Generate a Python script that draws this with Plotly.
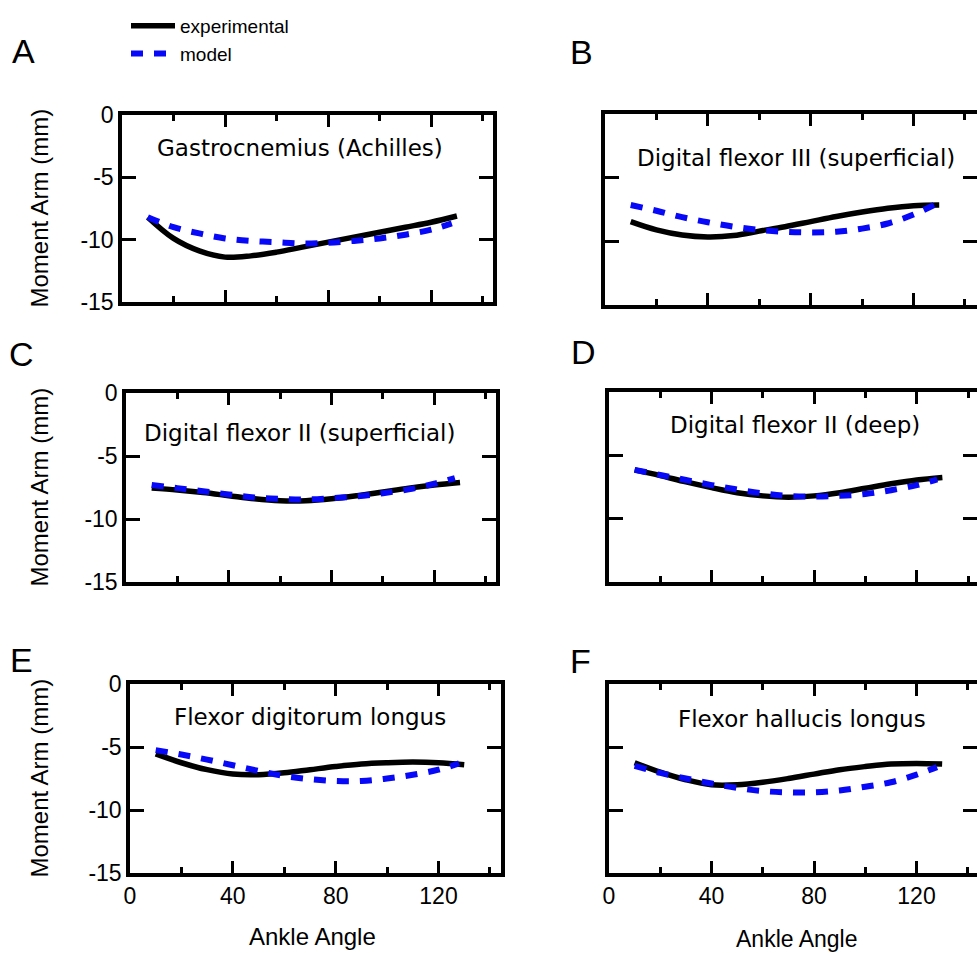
import plotly.graph_objects as go

W, H = 977, 953

angles_exp = [10, 20, 30, 40, 50, 60, 70, 80, 90, 100, 110, 120, 130]
angles_mod = [10, 20, 30, 40, 50, 60, 70, 80, 90, 100, 110, 120, 128]

titles = ["Gastrocnemius (Achilles)", "Digital flexor III (superficial)",
          "Digital flexor II (superficial)", "Digital flexor II (deep)",
          "Flexor digitorum longus", "Flexor hallucis longus"]
panel_letters = ["A", "B", "C", "D", "E", "F"]

exp_A = [-8.2, -9.9, -10.9, -11.4, -11.3, -11.0, -10.6, -10.2, -9.8, -9.4, -9.0, -8.6, -8.1]
mod_A = [-8.2, -9.0, -9.5, -9.9, -10.1, -10.2, -10.3, -10.25, -10.1, -9.9, -9.6, -9.2, -8.7]
exp_B = [-8.45, -9.1, -9.5, -9.65, -9.55, -9.2, -8.85, -8.45, -8.05, -7.7, -7.4, -7.2, -7.15]
mod_B = [-7.15, -7.6, -8.1, -8.5, -8.85, -9.1, -9.25, -9.3, -9.25, -9.0, -8.6, -7.9, -7.15]
exp_C = [-7.55, -7.7, -7.9, -8.15, -8.4, -8.55, -8.55, -8.4, -8.15, -7.85, -7.55, -7.3, -7.1]
mod_C = [-7.3, -7.55, -7.8, -8.05, -8.3, -8.4, -8.45, -8.35, -8.2, -7.95, -7.65, -7.2, -6.75]
exp_D = [-6.15, -6.6, -7.1, -7.55, -7.95, -8.2, -8.3, -8.2, -7.95, -7.6, -7.25, -6.95, -6.75]
mod_D = [-6.15, -6.55, -6.95, -7.35, -7.7, -8.0, -8.2, -8.25, -8.2, -8.05, -7.75, -7.35, -6.9]
exp_E = [-5.55, -6.25, -6.8, -7.15, -7.2, -7.05, -6.8, -6.55, -6.35, -6.25, -6.2, -6.25, -6.4]
mod_E = [-5.25, -5.6, -6.0, -6.45, -6.9, -7.3, -7.55, -7.7, -7.7, -7.5, -7.2, -6.8, -6.3]
exp_F = [-6.25, -7.0, -7.6, -8.0, -8.0, -7.8, -7.5, -7.15, -6.8, -6.55, -6.35, -6.3, -6.35]
mod_F = [-6.5, -7.05, -7.5, -7.9, -8.25, -8.5, -8.6, -8.6, -8.45, -8.15, -7.8, -7.2, -6.6]

exp_series = [exp_A, exp_B, exp_C, exp_D, exp_E, exp_F]
mod_series = [mod_A, mod_B, mod_C, mod_D, mod_E, mod_F]

y_ticks = [0, -5, -10, -15]
x_ticks = [0, 40, 80, 120]
x_minor_ticks = [20, 60, 100, 140]

# panel boxes in pixels: left, right, top, bottom
boxes = [(122, 493, 115, 302), (605, 977, 114, 305),
         (126, 496, 393, 582), (609, 977, 392, 582),
         (130, 501, 684, 873), (609, 977, 684, 873)]
x_max = [144, 144.7, 144, 143.5, 144.3, 143.6]
title_pos = [(300, 148), (796, 158), (299, 433), (795, 425), (310, 717), (802, 719)]
letter_pos = [(23, 51), (581, 52), (21, 354), (583, 352), (21, 660), (580, 661)]

TICK_FONT = dict(family="Liberation Sans, Arial", size=23, color="black")

fig = go.Figure()
annotations = []
for i in range(6):
    ax = "" if i == 0 else str(i + 1)
    fig.add_trace(go.Scatter(x=angles_exp, y=exp_series[i], mode="lines",
                             line=dict(color="black", width=5.5, shape="spline"),
                             name="experimental", showlegend=(i == 0),
                             xaxis="x" + ax, yaxis="y" + ax))
    fig.add_trace(go.Scatter(x=angles_mod, y=mod_series[i], mode="lines",
                             line=dict(color="#0808f8", width=6, dash="12px,11px", shape="spline"),
                             name="model", showlegend=(i == 0),
                             xaxis="x" + ax, yaxis="y" + ax))
    l, r, t, b = boxes[i]
    left_col = (i % 2 == 0)
    bottom_row = (i >= 4)
    fig.update_layout(**{
        "xaxis" + ax: dict(domain=[l / W, min(r / W, 1.0)], range=[0, x_max[i]],
                           anchor="y" + ax, tickvals=x_ticks, automargin=False,
                           ticks="inside", ticklen=12, tickwidth=3, tickcolor="black",
                           minor=dict(tickvals=x_minor_ticks, ticks="inside",
                                      ticklen=6, tickwidth=3, tickcolor="black"),
                           showline=True, linewidth=3.5, linecolor="black", mirror="allticks",
                           showgrid=False, zeroline=False, showticklabels=bottom_row,
                           tickfont=TICK_FONT, fixedrange=True),
        "yaxis" + ax: dict(domain=[1 - b / H, 1 - t / H], range=[-15, 0],
                           anchor="x" + ax, tickvals=y_ticks, automargin=False,
                           ticktext=[str(v) for v in y_ticks],
                           ticks="inside", ticklen=14, tickwidth=3, tickcolor="black",
                           showline=True, linewidth=3.5, linecolor="black", mirror="ticks",
                           showgrid=False, zeroline=False, showticklabels=left_col,
                           tickfont=TICK_FONT, fixedrange=True),
    })
    tx, ty = title_pos[i]
    annotations.append(dict(text=titles[i], x=tx / W, y=1 - ty / H, xref="paper", yref="paper",
                            showarrow=False, xanchor="center", yanchor="middle",
                            font=dict(family="DejaVu Sans", size=23, color="black")))
    lx, ly = letter_pos[i]
    annotations.append(dict(text=panel_letters[i], x=lx / W, y=1 - ly / H, xref="paper", yref="paper",
                            showarrow=False, xanchor="center", yanchor="middle",
                            font=dict(family="Liberation Sans, Arial", size=34, color="black")))
    if left_col:
        annotations.append(dict(text="Moment Arm (mm)", x=39 / W, y=1 - ((t + b) / 2) / H,
                                xref="paper", yref="paper", showarrow=False, textangle=-90,
                                xanchor="center", yanchor="middle",
                                font=dict(family="Liberation Sans, Arial", size=24, color="black")))

annotations.append(dict(text="Ankle Angle", x=312 / W, y=1 - 936 / H, xref="paper", yref="paper",
                        showarrow=False, xanchor="center", yanchor="middle",
                        font=dict(family="Liberation Sans, Arial", size=24, color="black")))
annotations.append(dict(text="Ankle Angle", x=796 / W, y=1 - 939 / H, xref="paper", yref="paper",
                        showarrow=False, xanchor="center", yanchor="middle",
                        font=dict(family="Liberation Sans, Arial", size=23, color="black")))

fig.update_layout(
    width=W, height=H,
    margin=dict(l=0, r=0, t=0, b=0, pad=0, autoexpand=False),
    paper_bgcolor="white", plot_bgcolor="white",
    annotations=annotations,
    showlegend=True,
    legend=dict(x=126 / W, y=1 - 7 / H, xanchor="left", yanchor="top",
                font=dict(family="Liberation Sans, Arial", size=19, color="black"),
                bgcolor="rgba(0,0,0,0)", itemwidth=44, tracegroupgap=0),
)

fig.write_html("out.html", config={"displayModeBar": False},
               post_script="document.body.style.margin='0';document.body.style.overflow='hidden';")
